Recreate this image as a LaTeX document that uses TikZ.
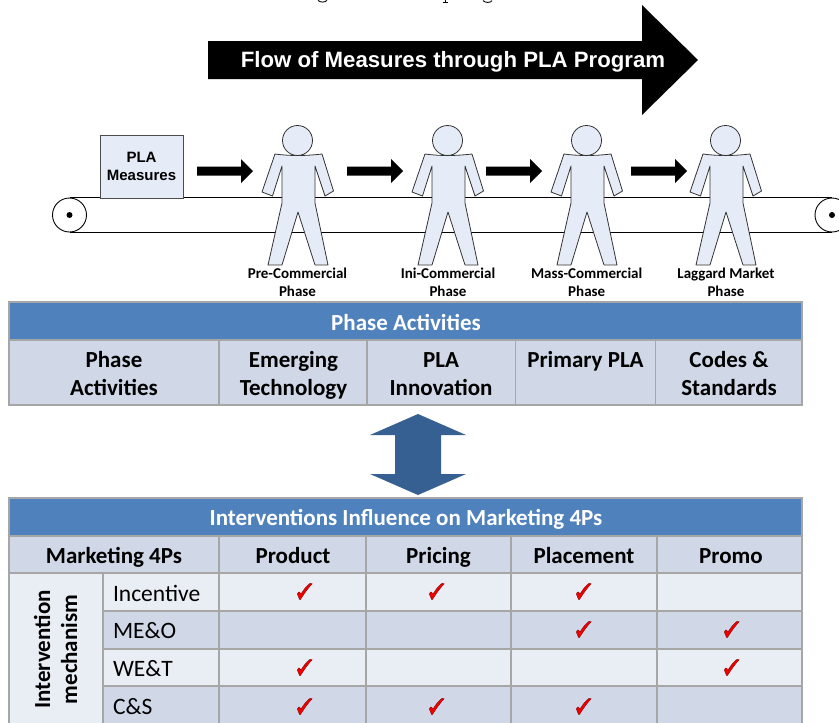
\documentclass[tikz,border=0pt]{standalone}
\usepackage{fontspec}
\setmainfont{Carlito}
\newfontfamily\arialf{Liberation Sans}
\definecolor{hdr}{HTML}{4F81BD}
\definecolor{darkc}{HTML}{D0D8E8}
\definecolor{lightc}{HTML}{E9EDF4}
\definecolor{gridc}{HTML}{A6A6A6}
\definecolor{figc}{HTML}{E6ECF7}
\definecolor{dblc}{HTML}{376092}
\newcommand\fs[1]{\fontsize{#1}{#1}\selectfont}
\newcommand\tcell[6]{%
  \pgfmathsetmacro\cw{#4-#2}\pgfmathsetmacro\ch{#5-#3}%
  \pgfmathsetmacro\cx{(#2+#4)/2}\pgfmathsetmacro\cy{(#3+#5)/2}%
  \node[cellbox,minimum width=\cw pt,minimum height=\ch pt,fill=#6] (#1) at (\cx,\cy) {};}
\newcommand\blockarrow[1]{%
  \fill[black] (#1,166.5) -- ++(44,0) -- ++(0,-7.5) -- ++(12,12) -- ++(-12,12) -- ++(0,-7.5) -- ++(-44,0) -- cycle;}
\newcommand\person[2]{%
  \begin{scope}[shift={(#1,0)}]
  \draw[figline] (-22.5,154) .. controls (-8,156) and (8,156) .. (24.5,154)
    -- (36,191) -- (27.5,196) -- (17.5,166) -- (17.5,203) -- (30.5,265) -- (17.5,265)
    -- (0.5,212) -- (-15.5,265) -- (-29.5,265) -- (-15.5,203) -- (-15.5,166) -- (-25,196) -- (-35.5,192) -- cycle;
  \draw[figline] (0,140.5) circle (15);
  \end{scope}
  \coordinate (#2a) at (#1,278);}
\tikzset{
  cellbox/.style={draw=gridc,line width=1.5pt,inner sep=0pt,outer sep=0pt,rectangle},
  figline/.style={draw=black!80,fill=figc,line width=0.8pt,line join=round},
  txt/.style={inner sep=0pt,outer sep=0pt,anchor=base},
  bh/.style={txt,font=\bfseries\fs{23}},
  wh/.style={txt,font=\bfseries\fs{23},text=white},
  rl/.style={inner sep=0pt,outer sep=0pt,anchor=base west,font=\fs{23.5}},
  cp/.style={txt,font=\bfseries\fs{15}},
  chk/.pic={\draw[fill=red!95!black,draw=red!45!black,line width=0.3pt,line join=round]
     (-7.7,2) .. controls (-7,0) and (-6,-0.5) .. (-5.5,0) -- (-4,2)
     .. controls (-1,-3) and (2,-6.5) .. (5,-8.7) -- (7.3,-8.3)
     .. controls (3,-4) and (-1,2) .. (-4.5,7.5) -- (-5.5,7.5) -- cycle;}
}
\begin{document}
\begin{tikzpicture}[x=1pt,y=-1pt]
\useasboundingbox (0,0) rectangle (839,723);
\clip (0,0) rectangle (839,723);
% clipped line of text above
\draw[black,line width=0.9pt] (318,0.4) .. controls (320,2.6) and (325,2.6) .. (327,0.4);
\draw[black,line width=0.9pt] (445,0) -- (445,2.6) (442.5,2.6) -- (447.5,2.6);
\draw[black,line width=0.9pt] (483,0.6) .. controls (485,3) and (491,3) .. (492,0.6);
% big arrow
\fill[black] (208,41) -- (642,41) -- (642,5) -- (698,60) -- (642,115) -- (642,79) -- (208,79) -- cycle;
\node[txt,text=white,font=\arialf\bfseries\fs{22.2}] (title) at (453,67.5) {Flow of Measures through PLA Program};
% belt
\node[circle,draw=black,line width=0.9pt,minimum size=34pt,inner sep=0pt,fill=white] (rollL) at (69.5,215) {};
\node[circle,draw=black,line width=0.9pt,minimum size=34pt,inner sep=0pt,fill=white] (rollR) at (832,215) {};
\fill[black] (rollL.center) circle (3);
\fill[black] (rollR.center) circle (3);
\draw[black,line width=0.9pt] (rollL.north) -- (rollR.north);
\draw[black,line width=0.9pt] (rollL.south) -- (rollR.south);
% PLA box
\node[draw=black!70,fill=figc,line width=0.8pt,minimum width=83pt,minimum height=63pt,inner sep=0pt,outer sep=0pt] (pla) at (141.5,166.5) {};
\node[txt,font=\arialf\bfseries\fs{15}] (pla1) at (141.5,162) {PLA};
\node[txt,font=\arialf\bfseries\fs{15}] (pla2) at (141.5,180) {Measures};
% arrows
\blockarrow{197}\blockarrow{347}\blockarrow{486}\blockarrow{631}
% persons
\person{297.5}{pA}\person{447.5}{pB}\person{586.5}{pC}\person{725.5}{pD}
\node[cp] (c1a) at (297.5,278) {Pre-Commercial};
\node[cp] (c1b) at (297.5,296) {Phase};
\node[cp] (c2a) at (448,278) {Ini-Commercial};
\node[cp] (c2b) at (448,296) {Phase};
\node[cp] (c3a) at (586.7,278) {Mass-Commercial};
\node[cp] (c3b) at (586.7,296) {Phase};
\node[cp] (c4a) at (726,278) {Laggard Market};
\node[cp] (c4b) at (726,296) {Phase};
% table 1
\tcell{ta}{9}{302}{802}{340}{hdr}
\tcell{t1}{9}{340}{219}{405}{darkc}
\tcell{t2}{219}{340}{367}{405}{darkc}
\tcell{t3}{367}{340}{515.5}{405}{darkc}
\tcell{t4}{515.5}{340}{655.5}{405}{darkc}
\tcell{t5}{655.5}{340}{802}{405}{darkc}
\node[wh] (tah) at (406,330) {Phase Activities};
\node[bh] (x1) at (114,367) {Phase};
\node[bh] (x1b) at (114,395) {Activities};
\node[bh] (x2) at (293.5,367) {Emerging};
\node[bh] (x2b) at (293.5,395) {Technology};
\node[bh] (x3) at (441,367) {PLA};
\node[bh] (x3b) at (441,395) {Innovation};
\node[bh] (x4) at (585.5,367) {Primary PLA};
\node[bh] (x5) at (729,367) {Codes \&};
\node[bh] (x5b) at (729,395) {Standards};
% double arrow
\fill[dblc] (418,414) -- (466,435) -- (441,435) -- (441,474) -- (466,474) -- (418,495) -- (370,474) -- (395,474) -- (395,435) -- (370,435) -- cycle;
% table 2
\tcell{ua}{9}{498}{802}{536}{hdr}
\tcell{h1}{9}{536}{219}{573}{darkc}
\tcell{h2}{219}{536}{366}{573}{darkc}
\tcell{h3}{366}{536}{511}{573}{darkc}
\tcell{h4}{511}{536}{657}{573}{darkc}
\tcell{h5}{657}{536}{802}{573}{darkc}
\tcell{lc}{9}{573}{103}{735}{lightc}
\foreach \ya/\yb/\cc/\nn in {573/611/lightc/a,611/649/darkc/b,649/686/lightc/c,686/735/darkc/d}{
  \tcell{r\nn0}{103}{\ya}{219}{\yb}{\cc}
  \tcell{r\nn1}{219}{\ya}{366}{\yb}{\cc}
  \tcell{r\nn2}{366}{\ya}{511}{\yb}{\cc}
  \tcell{r\nn3}{511}{\ya}{657}{\yb}{\cc}
  \tcell{r\nn4}{657}{\ya}{802}{\yb}{\cc}
}
\node[wh] (uah) at (406,525) {Interventions Influence on Marketing 4Ps};
\node[bh] (y1) at (114,563) {Marketing 4Ps};
\node[bh] (y2) at (293,563) {Product};
\node[bh] (y3) at (438.5,563) {Pricing};
\node[bh] (y4) at (584,563) {Placement};
\node[bh] (y5) at (731,563) {Promo};
\node[rl] (l1) at (113,601) {Incentive};
\node[rl] (l2) at (113,638) {ME\&O};
\node[rl] (l3) at (113,676) {WE\&T};
\node[rl] (l4) at (113,714) {C\&S};
\node[txt,rotate=90,font=\bfseries\fs{23}] (v1) at (50,649.5) {Intervention};
\node[txt,rotate=90,font=\bfseries\fs{23}] (v2) at (77,649.5) {mechanism};
% checks
\foreach \px/\py in {305/592,437/592,584/592,584/630,732/630,305/668,732/668,305/707,437/707,584/707}{
  \pic at (\px,\py) {chk};
}
\end{tikzpicture}
\end{document}
